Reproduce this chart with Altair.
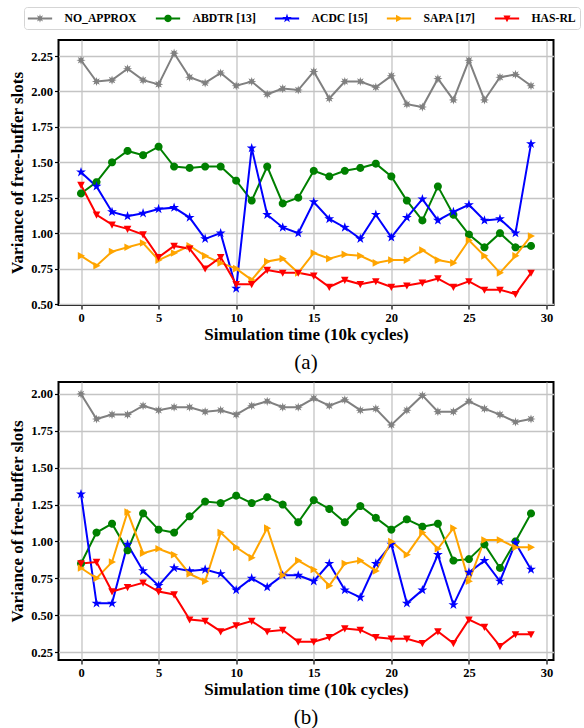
import math
import altair as alt
import pandas as pd

# ---------------- data ----------------
series = ["NO_APPROX", "ABDTR [13]", "ACDC [15]", "SAPA [17]", "HAS-RL"]
colors = ["#808080", "#008000", "#0000ff", "#ffa500", "#ff0000"]
steps = list(range(30))

a_no_approx = [2.22, 2.07, 2.08, 2.16, 2.08, 2.05, 2.27, 2.10, 2.06, 2.13,
               2.04, 2.07, 1.98, 2.02, 2.01, 2.14, 1.95, 2.07, 2.07, 2.03,
               2.11, 1.91, 1.89, 2.09, 1.94, 2.22, 1.94, 2.10, 2.12, 2.04]
a_abdtr = [1.28, 1.36, 1.50, 1.58, 1.55, 1.61, 1.47, 1.46, 1.47, 1.47,
           1.37, 1.23, 1.47, 1.21, 1.25, 1.44, 1.40, 1.44, 1.46, 1.49,
           1.40, 1.23, 1.09, 1.33, 1.13, 0.99, 0.90, 1.00, 0.90, 0.91]
a_acdc = [1.43, 1.33, 1.15, 1.12, 1.14, 1.17, 1.18, 1.11, 0.96, 1.00,
          0.61, 1.60, 1.13, 1.04, 1.00, 1.22, 1.10, 1.04, 0.96, 1.13,
          0.97, 1.11, 1.24, 1.09, 1.15, 1.20, 1.09, 1.10, 1.00, 1.63]
a_sapa = [0.84, 0.77, 0.87, 0.90, 0.93, 0.81, 0.86, 0.91, 0.84, 0.79,
          0.75, 0.67, 0.80, 0.82, 0.72, 0.86, 0.82, 0.85, 0.84, 0.79,
          0.81, 0.81, 0.88, 0.81, 0.79, 0.95, 0.84, 0.72, 0.84, 0.98]
a_hasrl = [1.34, 1.13, 1.06, 1.03, 0.99, 0.83, 0.91, 0.89, 0.75, 0.83,
           0.64, 0.64, 0.74, 0.72, 0.72, 0.70, 0.62, 0.67, 0.64, 0.66,
           0.62, 0.63, 0.65, 0.68, 0.62, 0.66, 0.60, 0.60, 0.57, 0.72]

b_no_approx = [2.00, 1.83, 1.86, 1.86, 1.92, 1.89, 1.91, 1.91, 1.88, 1.89,
               1.86, 1.92, 1.95, 1.91, 1.91, 1.97, 1.92, 1.96, 1.89, 1.90,
               1.79, 1.89, 1.99, 1.88, 1.88, 1.95, 1.90, 1.86, 1.81, 1.83]
b_abdtr = [0.85, 1.06, 1.12, 0.94, 1.19, 1.08, 1.06, 1.17, 1.27, 1.26,
           1.31, 1.26, 1.30, 1.25, 1.13, 1.28, 1.22, 1.13, 1.24, 1.16,
           1.08, 1.15, 1.10, 1.12, 0.87, 0.88, 0.98, 0.82, 1.00, 1.19]
b_acdc = [1.32, 0.58, 0.58, 0.98, 0.80, 0.70, 0.82, 0.80, 0.81, 0.78,
          0.67, 0.75, 0.69, 0.77, 0.77, 0.73, 0.85, 0.67, 0.62, 0.85,
          0.98, 0.58, 0.67, 0.91, 0.57, 0.79, 0.87, 0.73, 0.99, 0.81]
b_sapa = [0.82, 0.75, 0.86, 1.20, 0.92, 0.95, 0.91, 0.78, 0.73, 1.06,
          0.96, 0.89, 1.09, 0.77, 0.87, 0.81, 0.70, 0.85, 0.87, 0.80,
          1.00, 0.91, 1.06, 0.95, 1.09, 0.73, 1.01, 1.01, 0.96, 0.96]
b_hasrl = [0.85, 0.86, 0.66, 0.69, 0.72, 0.66, 0.64, 0.47, 0.46, 0.39,
           0.43, 0.46, 0.39, 0.40, 0.32, 0.32, 0.35, 0.41, 0.40, 0.35,
           0.34, 0.34, 0.31, 0.39, 0.31, 0.47, 0.42, 0.29, 0.37, 0.37]

x_ticks = [0, 5, 10, 15, 20, 25, 30]
a_y_ticks = [0.50, 0.75, 1.00, 1.25, 1.50, 1.75, 2.00, 2.25]
b_y_ticks = [0.25, 0.50, 0.75, 1.00, 1.25, 1.50, 1.75, 2.00]


def long_frame(cols):
    rows = []
    for name, vals in zip(series, cols):
        for s, v in zip(steps, vals):
            rows.append({"x": s, "v": v, "series": name})
    return pd.DataFrame(rows)


df_a = long_frame([a_no_approx, a_abdtr, a_acdc, a_sapa, a_hasrl])
df_b = long_frame([b_no_approx, b_abdtr, b_acdc, b_sapa, b_hasrl])


# ---------------- marker shapes (SVG paths, unit box) ----------------
def fmt(v):
    return f"{v:.3f}"


def poly(pts, scale=1.0):
    return "M" + " L".join(f"{fmt(scale*px)},{fmt(scale*py)}" for px, py in pts) + " Z"


def star_pts(n, r_out, r_in):
    pts = []
    for k in range(2 * n):
        r = r_out if k % 2 == 0 else r_in
        ang = -math.pi / 2 + k * math.pi / n
        pts.append((r * math.cos(ang), r * math.sin(ang)))
    return pts


def circle_pts(r, n=28):
    return [(r * math.cos(2 * math.pi * k / n), r * math.sin(2 * math.pi * k / n))
            for k in range(n)]


shape_pts = [
    star_pts(8, 1.15, 0.55),
    circle_pts(1.0),
    star_pts(5, 1.3, 0.5),
    [(-0.8, -0.95), (1.0, 0), (-0.8, 0.95)],
    [(-0.95, -0.8), (0.95, -0.8), (0, 1.0)],
]

marker_paths = [poly(p) for p in shape_pts]
bar = "M-1.62,-0.13 L1.62,-0.13 L1.62,0.13 L-1.62,0.13 Z "
legend_paths = [bar + poly(p, 0.5) for p in shape_pts]

color_scale = alt.Scale(domain=series, range=colors)

legend_kw = dict(
    orient="none", legendX=-34.5, legendY=-33, direction="horizontal",
    title=None, labelFont="Liberation Serif", labelFontWeight="bold",
    labelFontSize=11.7, labelColor="black", symbolSize=225,
    symbolStrokeWidth=0, symbolOffset=5, labelOffset=17,
    columnPadding=18, padding=3.5, strokeColor="#d5d5d5",
    fillColor="white", cornerRadius=3, labelLimit=300,
)


def panel(df, ydom, yticks, caption, with_legend, height):
    X = alt.X("x:Q", scale=alt.Scale(domain=[-1.45, 30.45], nice=False, zero=False),
              axis=alt.Axis(values=x_ticks, format="d",
                            title="Simulation time (10k cycles)", titlePadding=3))
    Y = alt.Y("v:Q", scale=alt.Scale(domain=ydom, nice=False, zero=False),
              axis=alt.Axis(values=yticks, format=".2f",
                            title="Variance of free-buffer slots", titlePadding=4))
    base = alt.Chart(df)
    lines = base.mark_line(strokeWidth=2, clip=True).encode(
        x=X, y=Y, color=alt.Color("series:N", scale=color_scale, legend=None,
                                  sort=series))
    pts = base.mark_point(filled=True, opacity=1, size=64, strokeWidth=0, clip=True).encode(
        x=X, y=Y,
        color=alt.Color("series:N", scale=color_scale, legend=None, sort=series),
        shape=alt.Shape("series:N", scale=alt.Scale(domain=series, range=marker_paths),
                        legend=None),
    )
    layers = [lines, pts]
    if with_legend:
        leg = base.transform_filter("datum.x < -100").mark_point(
            filled=True, opacity=1, strokeWidth=0).encode(
            x=X, y=Y,
            fill=alt.Fill("series:N", scale=alt.Scale(domain=series, range=colors),
                          legend=alt.Legend(**legend_kw)),
            shape=alt.Shape("series:N", scale=alt.Scale(domain=series, range=legend_paths),
                            legend=alt.Legend(**legend_kw)),
        )
        layers.append(leg)
    ch = alt.layer(*layers).properties(
        width=495, height=height,
        title=alt.TitleParams(caption, orient="bottom", font="Liberation Serif",
                              fontSize=21, fontWeight="normal", color="black",
                              offset=9, anchor="middle", frame="group"),
    )
    if with_legend:
        ch = ch.resolve_scale(shape="independent", fill="independent")
    return ch


pa = panel(df_a, [0.493, 2.363], a_y_ticks, "(a)", True, 265)
pb = panel(df_b, [0.196, 2.081], b_y_ticks, "(b)", False, 278)

chart = alt.vconcat(pa, pb, spacing=7).resolve_scale(
    color="independent", shape="independent", fill="independent"
).properties(
    padding={"left": 7.5, "top": 5, "right": 0, "bottom": 0},
    background="white",
).configure_view(
    stroke="black", strokeWidth=2
).configure_axis(
    labelFont="Liberation Serif", labelFontWeight="bold", labelFontSize=12.5,
    labelColor="black", titleFont="Liberation Serif", titleFontSize=17,
    titleFontWeight="bold", titleColor="black", tickColor="black", tickSize=4,
    tickWidth=1.2, domain=False, gridColor="#c4c4c4", gridWidth=1.3,
    labelPadding=2,
)

chart.save("out.html", embed_options={"renderer": "svg", "actions": False})
